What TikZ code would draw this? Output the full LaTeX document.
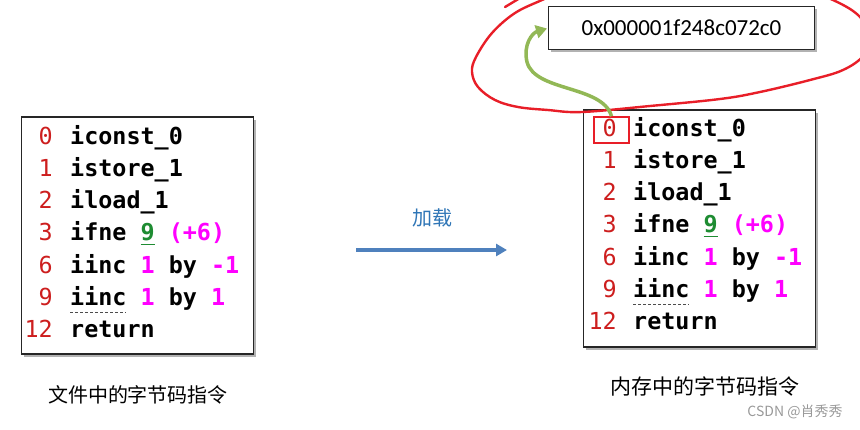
\documentclass[tikz,border=0pt]{standalone}
\usepackage{fontspec}
\usetikzlibrary{arrows.meta,calc,shadows}
\newfontfamily\codefont{DejaVu Sans Mono}
\newfontfamily\cjk{Noto Sans CJK SC}
\newfontfamily\addrfont{Carlito}
\definecolor{cnum}{RGB}{205,30,30}
\definecolor{cmag}{RGB}{255,0,255}
\definecolor{cgrn}{RGB}{30,140,50}
\definecolor{cblue}{RGB}{79,129,189}
\definecolor{ctxtblue}{RGB}{46,117,182}
\definecolor{colive}{RGB}{146,184,86}
\definecolor{cred}{RGB}{232,30,40}
\newcommand{\mg}[1]{\textcolor{cmag}{#1}}
\newcommand{\gn}[1]{\textcolor{cgrn}{\rlap{\rule[-4.5pt]{0.602em}{1.3pt}}#1}}
\tikzset{
  codebox/.style={draw=black!85,line width=1.2pt,fill=white,
    drop shadow={shadow xshift=2.5pt,shadow yshift=-2.5pt,opacity=0.3,fill=black}},
  numstyle/.style={anchor=base east,inner sep=0pt,text=cnum,font=\codefont\fontsize{23.4}{28}\selectfont},
  codestyle/.style={anchor=base west,inner sep=0pt,text=black,font=\codefont\bfseries\fontsize{23.4}{28}\selectfont},
  caption/.style={font=\cjk\fontsize{20}{24}\selectfont,text=black,inner sep=0pt},
  redpen/.style={cred,line width=2.4pt,line cap=round}
}
\newcommand{\codeblock}[4]{%
  \foreach \n/\t [count=\i from 0] in {0/{iconst\_0},1/{istore\_1},2/{iload\_1},3/{ifne \gn{9} \mg{(+6)}},6/{iinc \mg{1} by \mg{-1}},9/{iinc \mg{1} by \mg{1}},12/{return}} {
    \node[numstyle] (#1n\i) at (#2,{#4+\i*32.3}) {\n};
    \node[codestyle] (#1t\i) at (#3,{#4+\i*32.3}) {\t};
  }%
}
\begin{document}
\begin{tikzpicture}[x=1pt,y=-1pt]
\useasboundingbox (0,0) rectangle (860,429);
% boxes
\node[codebox,minimum width=232pt,minimum height=237pt] (Lbox) at (137.5,235.5) {};
\node[codebox,minimum width=232pt,minimum height=237pt] (Rbox) at (699.5,228.5) {};
\node[codebox,line width=1pt,minimum width=266pt,minimum height=43pt,
  font=\addrfont\fontsize{23}{27}\selectfont] (addr) at (681.5,27.5) {0x000001f248c072c0};
% code
\codeblock{L}{53}{70}{144}
\codeblock{R}{617}{633}{136}
\draw[black!70,line width=1pt,dash pattern=on 3pt off 2pt] ($(Lt5.base west)+(0,6.5)$) -- ++(56,0);
\draw[black!70,line width=1pt,dash pattern=on 3pt off 2pt] ($(Rt5.base west)+(0,6.5)$) -- ++(56,0);
% red box round 0
\node[draw=cred,line width=1.4pt,minimum width=35pt,minimum height=26pt,inner sep=0pt] (z0) at (611.5,130) {};
% red hand-drawn loop
\begin{scope}
\clip (0,0) rectangle (860,429);
\draw[redpen] (505,7) -- (520,-2);
\draw[redpen] plot[smooth,tension=0.6] coordinates {(560,-8) (542,0) (515,13) (492,33) (476,57) (472,72) (478,87) (495,100) (518,107) (548,110) (582,112) (650,106) (720,99) (760,92) (810,80) (843,70) (864,55) (870,35) (858,15) (833,0) (800,-12)};
\end{scope}
% green arrow
\draw[colive,line width=3.5pt,-{Triangle[length=11pt,width=13pt]}] (z0.north) .. controls (603,85) and (535,92) .. (527,62) .. controls (523,45) and (532,33) .. ($(addr.west)+(-1,1)$);
% blue arrow
\coordinate (bs) at (356,250);
\coordinate (be) at (507,250);
\draw[cblue,line width=3.5pt,-{Triangle[length=11pt,width=12pt]}] (bs) -- (be);
\node[font=\cjk\fontsize{20}{24}\selectfont,text=ctxtblue,inner sep=0pt] (load) at (432,218) {加载};
% captions
\node[caption] (capL) at (138,395) {文件中的字节码指令};
\node[caption,font=\cjk\fontsize{21}{24}\selectfont] (capR) at (705,386) {内存中的字节码指令};
\node[font=\cjk\fontsize{14}{16}\selectfont,text=black!40,inner sep=0pt] (wm) at (795,412) {CSDN @肖秀秀};
\end{tikzpicture}
\end{document}
